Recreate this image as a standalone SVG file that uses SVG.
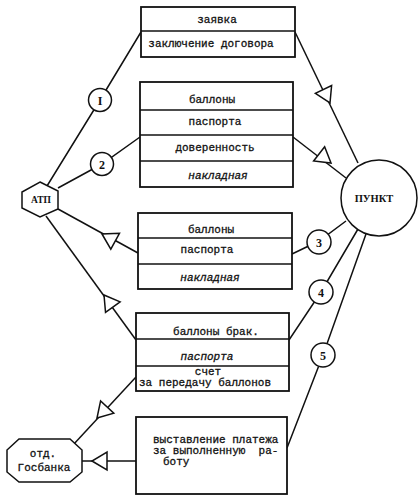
<svg xmlns="http://www.w3.org/2000/svg" xmlns:xlink="http://www.w3.org/1999/xlink" width="420" height="500" viewBox="0 0 420 500">
<style>
.box{fill:#fff;stroke:#111;stroke-width:1.8}
.div{stroke:#111;stroke-width:1.5}
.ln{fill:none;stroke:#111;stroke-width:1.5}
.t{font-family:"Liberation Mono","DejaVu Sans Mono",monospace;font-size:11px;fill:#111;stroke:#111;stroke-width:0.3;text-anchor:middle}
.tl{font-family:"Liberation Mono","DejaVu Sans Mono",monospace;font-size:11px;fill:#111;stroke:#111;stroke-width:0.3;white-space:pre}
.it{font-style:italic}
.s{font-family:"Liberation Serif","DejaVu Serif",serif;fill:#111;text-anchor:middle;font-weight:bold}
.nc{fill:#fff;stroke:#111;stroke-width:1.5}
.ah{fill:#fff;stroke:#111;stroke-width:1.5;stroke-linejoin:miter}
</style>
<defs>
<path id="ah" class="ah" d="M0,0 L-15,-9 L-15,9 Z"/>
</defs>
<rect width="420" height="500" fill="#fff"/>
<g id="connectors">
<polyline class="ln" points="141,32 100,100 47,186"/>
<line class="ln" x1="295" y1="32" x2="358" y2="163"/>
<polyline class="ln" points="58,188 102,164 140,137"/>
<line class="ln" x1="293" y1="137" x2="346" y2="178"/>
<line class="ln" x1="138" y1="253" x2="58" y2="209"/>
<polyline class="ln" points="292,254 319,241 346,221"/>
<line class="ln" x1="46" y1="216" x2="136" y2="340"/>
<polyline class="ln" points="289,340 321,292 358,229"/>
<line class="ln" x1="136" y1="377" x2="73" y2="445"/>
<polyline class="ln" points="366,234 323,355 287,448"/>
<line class="ln" x1="136" y1="461" x2="82" y2="461"/>
<use xlink:href="#ah" href="#ah" transform="translate(330,103) rotate(64.3)"/>
<use xlink:href="#ah" href="#ah" transform="translate(331,163) rotate(37.7)"/>
<use xlink:href="#ah" href="#ah" transform="translate(102,234) rotate(208.8)"/>
<use xlink:href="#ah" href="#ah" transform="translate(104,295) rotate(234)"/>
<use xlink:href="#ah" href="#ah" transform="translate(97,418) rotate(132.8)"/>
<use xlink:href="#ah" href="#ah" transform="translate(92,461) rotate(180)"/>
</g>
<g id="box1">
<rect class="box" x="141" y="7" width="154" height="50"/>
<line class="div" x1="141" y1="31" x2="295" y2="31"/>
<text class="t" x="217" y="23">заявка</text>
<text class="t" x="211" y="47">заключение договора</text>
</g>
<g id="box2">
<rect class="box" x="140" y="82" width="153" height="105"/>
<line class="div" x1="140" y1="110" x2="293" y2="110"/>
<line class="div" x1="140" y1="135" x2="293" y2="135"/>
<line class="div" x1="140" y1="161" x2="293" y2="161"/>
<text class="t" x="212" y="103">баллоны</text>
<text class="t" x="215" y="125">паспорта</text>
<text class="t" x="215" y="151">доверенность</text>
<text class="t it" x="218" y="179">накладная</text>
</g>
<g id="box3">
<rect class="box" x="138" y="213" width="154" height="76"/>
<line class="div" x1="138" y1="238" x2="292" y2="238"/>
<line class="div" x1="138" y1="264" x2="292" y2="264"/>
<text class="t" x="211" y="233">баллоны</text>
<text class="t" x="207" y="253">паспорта</text>
<text class="t it" x="210" y="281">накладная</text>
</g>
<g id="box4">
<rect class="box" x="136" y="313" width="153" height="78"/>
<line class="div" x1="136" y1="339" x2="289" y2="339"/>
<line class="div" x1="136" y1="366" x2="289" y2="366"/>
<text class="t" x="216" y="335">баллоны брак.</text>
<text class="t it" x="207" y="360">паспорта</text>
<text class="t" x="208" y="375">счет</text>
<text class="t" x="205" y="386">за передачу баллонов</text>
</g>
<g id="box5">
<rect class="box" x="136" y="417" width="151" height="77"/>
<text class="tl" x="153" y="443">выставление платежа</text>
<text class="tl" x="153" y="454">за выполненную  ра-</text>
<text class="tl" x="163" y="465">боту</text>
</g>
<g id="atp">
<polygon class="nc" points="40,182 58,191 58,209 40,217 22,208 22,192"/>
<text class="s" x="41" y="203" font-size="9.5">АТП</text>
</g>
<g id="punkt">
<circle class="nc" cx="379" cy="198" r="38"/>
<text class="s" x="374" y="202" font-size="10.5">ПУНКТ</text>
</g>
<g id="gosbank">
<polygon class="nc" points="19,439 70,439 82,450 82,472 70,482 19,482 7,472 7,450"/>
<text class="t" x="43" y="457">отд.</text>
<text class="t" x="44" y="471">Госбанка</text>
</g>
<g id="n1"><circle class="nc" cx="100" cy="100" r="11.5"/><text class="s" x="100" y="105" font-size="12">I</text></g>
<g id="n2"><circle class="nc" cx="102" cy="164" r="11.5"/><text class="s" x="102" y="169" font-size="12">2</text></g>
<g id="n3"><circle class="nc" cx="319" cy="242" r="12"/><text class="s" x="319" y="247" font-size="12">3</text></g>
<g id="n4"><circle class="nc" cx="321" cy="292" r="12"/><text class="s" x="321" y="297" font-size="12">4</text></g>
<g id="n5"><circle class="nc" cx="323" cy="355" r="12"/><text class="s" x="323" y="360" font-size="12">5</text></g>
</svg>
